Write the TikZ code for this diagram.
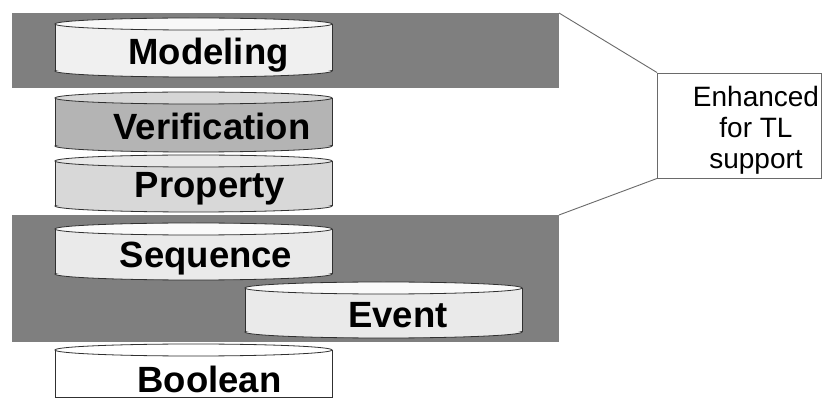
\documentclass[tikz,border=0pt]{standalone}
\usepackage{fontspec}
\setmainfont{Liberation Sans}
\definecolor{bandgray}{HTML}{7F7F7F}
\definecolor{modbody}{HTML}{F0F0F0}
\definecolor{modtop}{HTML}{F8F8F8}
\definecolor{verbody}{HTML}{B4B4B4}
\definecolor{vertop}{HTML}{D6D6D6}
\definecolor{probody}{HTML}{D8D8D8}
\definecolor{protop}{HTML}{E8E8E8}
\definecolor{seqbody}{HTML}{EAEAEA}
\definecolor{seqtop}{HTML}{FAFAFA}
\definecolor{edgegray}{HTML}{303030}
\definecolor{linegray}{HTML}{6A6A6A}
\newcommand\drawcyl[6]{%
  \fill[#5] (#1,#3) rectangle (#2,#4);
  \fill[#5] ({(#1+#2)/2},#4) ellipse [x radius={(#2-#1)/2}, y radius=6];
  \draw[cyledge] (#1,#3) -- (#1,#4);
  \draw[cyledge] (#2,#3) -- (#2,#4);
  \begin{scope}
    \clip ({#1-3},#4) rectangle ({#2+3},{#4+10});
    \draw[cyledge] ({(#1+#2)/2},#4) ellipse [x radius={(#2-#1)/2}, y radius=6];
  \end{scope}
  \filldraw[cyledge, fill=#6] ({(#1+#2)/2},#3) ellipse [x radius={(#2-#1)/2}, y radius=6];
}
\begin{document}
\begin{tikzpicture}[x=1pt,y=-1pt,
  cyledge/.style={draw=edgegray, line width=0.8pt},
  layer/.style={font=\bfseries\fontsize{36.5}{40}\selectfont, anchor=base, inner sep=0pt},
  band/.style={fill=bandgray},
  callout/.style={draw=linegray, line width=0.9pt}]
\useasboundingbox (0,0) rectangle (823,398);
\fill[white] (0,0) rectangle (823,398);
% gray bands
\fill[band] (12,13) rectangle (559,88);
\fill[band] (12,215) rectangle (559,342);
\coordinate (bandA) at (559,13);
\coordinate (bandB) at (559,215);
% callout box
\node[callout, minimum width=164pt, minimum height=105pt, inner sep=0pt] (box) at (739.5,125.5) {};
\node[font=\fontsize{28}{31}\selectfont, align=center, inner sep=0pt] (enh) at (756,130) {Enhanced\\for TL\\support};
\draw[callout] (bandA) -- (box.north west);
\draw[callout] (bandB) -- (box.south west);
% cylinders
\drawcyl{55}{332}{24}{71}{modbody}{modtop}
\drawcyl{55}{332}{98}{146}{verbody}{vertop}
\drawcyl{55}{332}{161}{206}{probody}{protop}
\drawcyl{55}{332}{229}{274}{seqbody}{seqtop}
\drawcyl{245}{522}{288}{332}{seqbody}{seqtop}
% Boolean (cut off at the bottom)
\fill[white] (55,350) rectangle (332,397);
\draw[cyledge] (55,350) -- (55,397) -- (332,397) -- (332,350);
\filldraw[cyledge, fill=white] (193.5,350) ellipse [x radius=138.5, y radius=6];
% labels
\node[layer] (modeling) at (208.5,65) {Modeling};
\node[layer] (verification) at (212,140) {Verification};
\node[layer] (property) at (210,198) {Property};
\node[layer] (sequence) at (206,268) {Sequence};
\node[layer] (event) at (398,328) {Event};
\node[layer] (boolean) at (209.5,392) {Boolean};
\end{tikzpicture}
\end{document}
